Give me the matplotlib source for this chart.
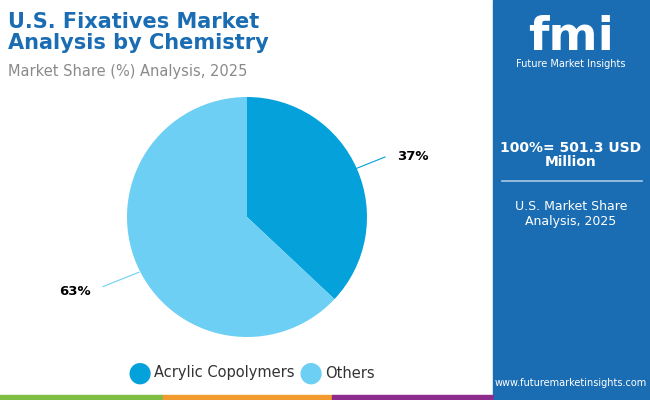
import matplotlib
matplotlib.use("Agg")
import matplotlib.pyplot as plt
from matplotlib.patches import Rectangle

categories = ["Acrylic Copolymers", "Others"]
shares = [37, 63]
colors = ["#05A1DB", "#6DCFF3"]

fig = plt.figure(figsize=(6.5, 4.0), dpi=100)
fig.patch.set_facecolor("white")

# right panel
fig.patches.append(Rectangle((493 / 650, 0), 1, 1, transform=fig.transFigure, color="#1B6DB3", zorder=0))
# bottom strip
for x0, w, c in [(0, 0.25, "#7DBE42"), (0.25, 0.26, "#F29A2E"), (0.51, 0.25, "#8E2C8E"), (0.76, 0.24, "#1B6DB3")]:
    fig.patches.append(Rectangle((x0, 0), w, 5 / 400, transform=fig.transFigure, color=c, zorder=1))

fig.text(0.012, 0.97, "U.S. Fixatives Market\nAnalysis by Chemistry", fontsize=15, fontweight="bold",
         color="#1B6DB3", va="top", linespacing=1.05)
fig.text(0.012, 0.84, "Market Share (%) Analysis, 2025", fontsize=10.5, color="#8A8A8A", va="top")

ax = fig.add_axes([247 / 650 - 0.185, 0.4575 - 0.3, 0.37, 0.6])
ax.pie(shares, colors=colors, startangle=90, counterclock=False, radius=1.0,
       wedgeprops=dict(linewidth=0))
ax.set_aspect("equal")
ax.set_xlim(-1, 1)
ax.set_ylim(-1, 1)
ax.plot([0.9, 1.15], [0.4, 0.5], color="#05A1DB", lw=0.8, clip_on=False)
ax.text(1.25, 0.5, f"{shares[0]}%", fontsize=9.5, fontweight="bold", va="center", ha="left")
ax.plot([-0.9, -1.2], [-0.46, -0.58], color="#6DCFF3", lw=0.8, clip_on=False)
ax.text(-1.3, -0.62, f"{shares[1]}%", fontsize=9.5, fontweight="bold", va="center", ha="right")

# legend
for xc, lab, c in [(140, categories[0], colors[0]), (311, categories[1], colors[1])]:
    fig.text(xc / 650, 1 - 373 / 400, "\u25CF", fontsize=20, color=c, ha="center", va="center")
    fig.text((xc + 14) / 650, 1 - 373 / 400, lab, fontsize=10.5, color="#333333", va="center")

# panel text
fig.text(571 / 650, 0.905, "fmi", fontsize=34, fontweight="bold", color="white", ha="center", va="center")
fig.text(571 / 650, 0.84, "Future Market Insights", fontsize=7, color="white", ha="center", va="center")
fig.text(571 / 650, 0.612, "100%= 501.3 USD\nMillion", fontsize=10, fontweight="bold", color="white",
         ha="center", va="center", linespacing=1.05)
fig.add_artist(plt.Line2D([502 / 650, 642 / 650], [1 - 181 / 400] * 2, color="#A9C8E6", lw=1.2))
fig.text(571 / 650, 0.465, "U.S. Market Share\nAnalysis, 2025", fontsize=9, color="white",
         ha="center", va="center")
fig.text(571 / 650, 1 - 383 / 400, "www.futuremarketinsights.com", fontsize=7, color="white",
         ha="center", va="center")

fig.savefig("out.png", dpi=100)
